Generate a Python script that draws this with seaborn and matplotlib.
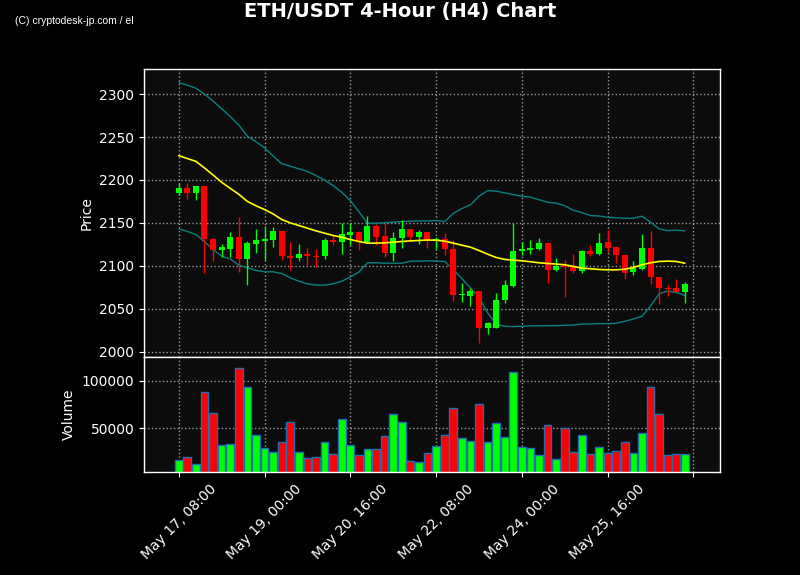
import numpy as np
import pandas as pd
import matplotlib
matplotlib.use('Agg')
import matplotlib.pyplot as plt
import seaborn as sns

# OHLC values (H4 candles, first one May 17 08:00)
opens = [2185, 2191, 2185, 2193, 2131, 2118, 2120, 2134, 2108, 2125,
         2129, 2130.5, 2141, 2111, 2109, 2114, 2111, 2111, 2130, 2128,
         2136, 2139.5, 2128, 2146, 2135, 2115, 2132, 2143, 2133, 2139,
         2129, 2131.5, 2120, 2066, 2065, 2071, 2028, 2027.5, 2060, 2077,
         2117, 2118.5, 2120, 2127, 2095.5, 2101, 2100, 2094, 2117, 2114,
         2128, 2122, 2113, 2092.5, 2096, 2120.5, 2087, 2074.4, 2074, 2070]
highs = [2197, 2197, 2193, 2194, 2132, 2125.6, 2139, 2157, 2129, 2143,
         2146, 2145, 2141, 2127.5, 2125, 2120.6, 2119.5, 2132, 2136, 2150,
         2150, 2140, 2158, 2148.6, 2150, 2139, 2153.5, 2143, 2142, 2139,
         2134, 2138, 2130, 2080, 2074, 2071, 2035, 2068, 2084, 2150,
         2128, 2129.5, 2132, 2127, 2109, 2107, 2114, 2118, 2124.4, 2138,
         2142, 2122, 2113, 2105, 2137, 2140, 2087, 2078, 2084.5, 2081]
lows = [2183, 2177.5, 2177, 2091.5, 2105, 2110, 2110, 2093, 2078, 2115,
        2107, 2122, 2107, 2095, 2105, 2101, 2099, 2108, 2124, 2114,
        2124, 2118, 2126, 2124, 2110, 2106, 2121, 2129, 2125, 2121,
        2119.5, 2113, 2058.5, 2058, 2053, 2010, 2021, 2027, 2057, 2075,
        2113, 2114, 2118.5, 2080, 2094, 2063.5, 2092, 2092, 2111, 2113,
        2115.5, 2103, 2084.5, 2089, 2095, 2079, 2056, 2065, 2070, 2057]
closes = [2191, 2185, 2193, 2131, 2118, 2121.5, 2134, 2108, 2126, 2130,
          2131, 2141, 2111, 2109, 2114, 2111, 2110, 2130, 2128, 2137,
          2139.5, 2128, 2146, 2134, 2115, 2132, 2143, 2133, 2139, 2129,
          2131.5, 2119, 2065.5, 2067, 2071, 2028, 2033, 2060.5, 2078, 2117.5,
          2120, 2121, 2127, 2095.5, 2100, 2099, 2094, 2116.7, 2114, 2127,
          2121, 2112, 2092, 2097.5, 2120.5, 2087, 2073.6, 2073, 2070, 2079]
volumes = [16700, 19800, 13100, 88500, 66600, 32300, 33300, 113500, 93700, 42700,
           29200, 25000, 35400, 56200, 25000, 18750, 19800, 35400, 22900, 59400,
           32300, 21900, 28100, 28100, 41700, 65600, 56200, 15600, 14600, 24000,
           31250, 42700, 71900, 39600, 36500, 76000, 35400, 55200, 40600, 109400,
           30200, 29200, 21900, 53100, 17700, 50000, 25000, 42700, 22900, 30200,
           24000, 26000, 35400, 24000, 44800, 93700, 65600, 21900, 22900, 22900]

# moving average and bollinger bands as drawn in the picture
sma = [2228.3, 2225, 2221.7, 2214, 2205.8, 2197.3, 2190.3, 2183.3, 2175, 2170,
       2165.5, 2160.5, 2154, 2150, 2147, 2143.8, 2140.7, 2138, 2135.3, 2133.3,
       2130.6, 2128.3, 2126.4, 2126.4, 2126.7, 2127.5, 2128.3, 2129, 2129.5, 2130,
       2129.8, 2128.7, 2126.4, 2124, 2121.7, 2117.8, 2113.6, 2109.7, 2107.4, 2106.6,
       2105.8, 2104.7, 2103.5, 2102.7, 2102, 2101.2, 2099.2, 2097.3, 2096.5, 2095.7,
       2095.3, 2095.3, 2096, 2098, 2101.2, 2103.5, 2105, 2105.4, 2105, 2103]
bb_upper = [2313.6, 2310.5, 2307, 2300, 2292, 2283, 2274, 2264, 2251, 2244.6,
            2237.6, 2228, 2219, 2216, 2213, 2210, 2205, 2200, 2193.4, 2185.7,
            2176, 2163, 2149.6, 2149.6, 2150, 2150.8, 2151.5, 2152, 2152.3, 2152.3,
            2152.7, 2151.5, 2161, 2166.7, 2171, 2181, 2187.6, 2187, 2185, 2183,
            2181, 2180, 2177, 2174, 2173, 2170, 2164.7, 2162, 2158.5, 2158,
            2156.6, 2156, 2155.4, 2155.4, 2157.8, 2150.8, 2143, 2141, 2141.5, 2140.7]
bb_lower = [2143, 2140, 2136.4, 2128, 2119, 2111.2, 2108, 2100.8, 2097.7, 2094.6,
            2093, 2093, 2091, 2086, 2082, 2079, 2077.5, 2077.5, 2079, 2082,
            2087, 2092.6, 2103.5, 2103.5, 2103, 2103, 2103, 2105.4, 2105.4, 2105.8,
            2105.4, 2105, 2095.7, 2085, 2074.4, 2062.8, 2045.3, 2031.8, 2029.5, 2029,
            2029.5, 2030, 2030, 2030.2, 2030.2, 2030.6, 2031, 2032, 2032.2, 2032.6,
            2032.6, 2033, 2035.3, 2038, 2041, 2053, 2067.4, 2070.5, 2069, 2065.5]

tick_pos = [0, 10, 20, 30, 40, 50, 60]
tick_labels = ['May 17, 08:00', 'May 19, 00:00', 'May 20, 16:00', 'May 22, 08:00',
               'May 24, 00:00', 'May 25, 16:00', '']

df = pd.DataFrame({'open': opens, 'high': highs, 'low': lows, 'close': closes,
                   'volume': volumes, 'sma': sma, 'upper': bb_upper, 'lower': bb_lower})
df['idx'] = np.arange(len(df))
df['up'] = df['close'] >= df['open']
df['color'] = np.where(df['up'], '#00ff00', '#ff0000')

sns.set_theme(style='dark', rc={
    'figure.facecolor': 'black',
    'axes.facecolor': '#0c0c0c',
    'axes.edgecolor': 'white',
    'axes.labelcolor': 'white',
    'xtick.color': 'white',
    'ytick.color': 'white',
    'text.color': 'white',
    'grid.color': '#999999',
    'grid.linestyle': ':',
    'axes.grid': True,
    'xtick.bottom': True,
    'ytick.left': True,
    'font.size': 10,
    'axes.labelsize': 10,
    'xtick.labelsize': 10,
    'ytick.labelsize': 10,
    'xtick.major.size': 3.5,
    'ytick.major.size': 3.5,
    'xtick.major.width': 0.8,
    'ytick.major.width': 0.8,
})
plt.rcParams['font.family'] = ['DejaVu Sans']

fig, (ax, axv) = plt.subplots(2, 1, figsize=(8, 5.75), dpi=100, sharex=True,
                              gridspec_kw={'height_ratios': [2.5, 1]})
fig.subplots_adjust(left=0.18, right=0.9, top=0.8795, bottom=0.1786, hspace=0)

# candles
ax.vlines(df['idx'], df['low'], df['high'], colors=df['color'], linewidth=1, zorder=2)
body_bottom = df[['open', 'close']].min(axis=1)
body_height = (df['close'] - df['open']).abs().clip(lower=0.8)
ax.bar(df['idx'], body_height, bottom=body_bottom, width=0.7, color=df['color'],
       linewidth=0, zorder=3)

# indicators
sns.lineplot(data=df, x='idx', y='upper', ax=ax, color='#0b7f7f', linewidth=1, zorder=1)
sns.lineplot(data=df, x='idx', y='lower', ax=ax, color='#0b7f7f', linewidth=1, zorder=1)
sns.lineplot(data=df, x='idx', y='sma', ax=ax, color='#ffff00', linewidth=1.2, zorder=4)

ax.set_ylim(1993.5, 2329)
ax.set_ylabel('Price')
ax.set_xlabel('')
ax.grid(True, linestyle=':', color='#999999', linewidth=1)

# volume
axv.bar(df['idx'], df['volume'], width=0.9, color=df['color'],
        edgecolor='#1f6fb4', linewidth=1, zorder=2)
axv.set_ylim(3900, 124800)
axv.set_yticks([50000, 100000])
axv.set_yticklabels(['50000', '100000'])
axv.set_ylabel('Volume')
axv.grid(True, linestyle=':', color='#999999', linewidth=1)

axv.set_xlim(-4.05, 63.1)
axv.set_xticks(tick_pos)
axv.set_xticklabels(tick_labels, rotation=45)
axv.set_xlabel('')

for a in (ax, axv):
    for s in a.spines.values():
        s.set_color('white')
        s.set_linewidth(1)

fig.suptitle('ETH/USDT 4-Hour (H4) Chart', fontsize=14, fontweight='bold',
             color='white', y=0.997)
fig.text(0.019, 0.963, '(C) cryptodesk-jp.com / el', fontsize=7.5,
         family=['Liberation Sans', 'DejaVu Sans'], color='white', va='center')

fig.savefig('out.png', dpi=100, facecolor='black')
